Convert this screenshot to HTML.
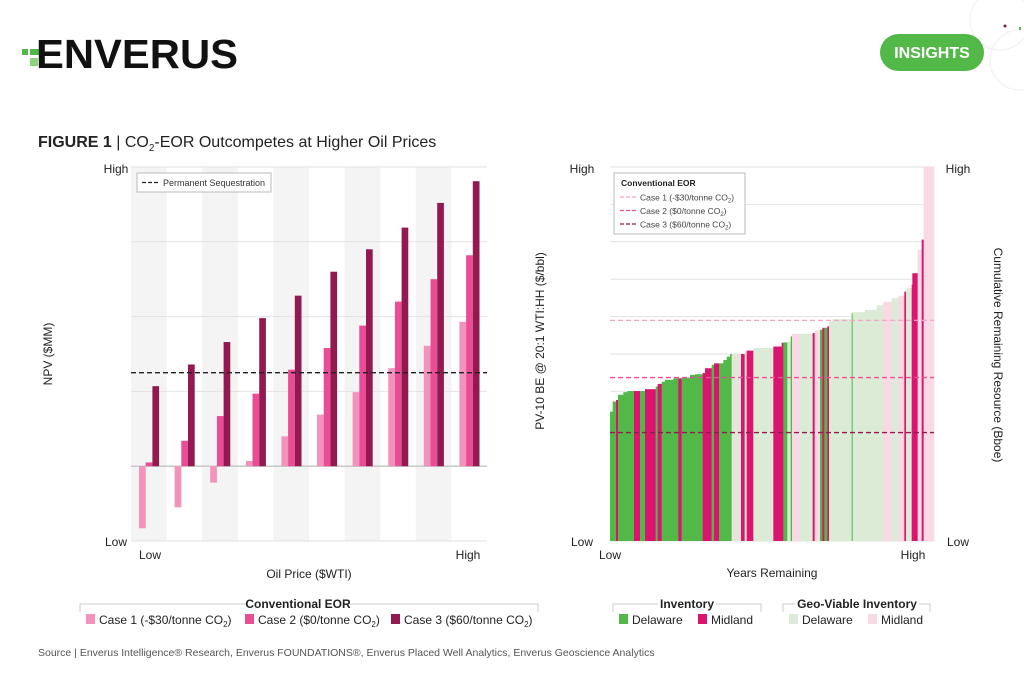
<!DOCTYPE html>
<html><head><meta charset="utf-8"><style>
html,body{margin:0;padding:0;background:#fff;}
svg{display:block;font-family:"Liberation Sans",Arial,sans-serif;}
</style></head><body>
<svg id="s" width="1024" height="683" viewBox="0 0 1024 683" xmlns="http://www.w3.org/2000/svg">
<g>
  <g>
    <rect x="22" y="49" width="6" height="6" fill="#52b848"/>
    <rect x="30" y="49" width="14" height="6" fill="#52b848"/>
    <rect x="30" y="58" width="8" height="8" fill="#8fd17f"/>
    <text x="36" y="68" font-size="41" font-weight="bold" fill="#111" textLength="202" lengthAdjust="spacingAndGlyphs">ENVERUS</text>
  </g>
  <circle cx="1000" cy="20" r="30" fill="none" stroke="#eee"/>
  <circle cx="1020" cy="60" r="30" fill="none" stroke="#eee"/>
  <rect x="1019" y="27" width="2" height="3" fill="#52b848"/>
  <circle cx="1005" cy="26" r="1.5" fill="#8a1a4e"/>
  <rect x="880" y="34" width="104" height="37" rx="18.5" fill="#52b848"/>
  <text x="932" y="58" font-size="16" font-weight="bold" fill="#fff" text-anchor="middle">INSIGHTS</text>
</g>
<text x="38" y="147" font-size="16" fill="#222"><tspan font-weight="bold">FIGURE 1</tspan> | CO<tspan font-size="10" dy="4">2</tspan><tspan dy="-4">-EOR Outcompetes at Higher Oil Prices</tspan></text>

<g id="left"></g>
<g id="right"></g>

<text x="38" y="656" font-size="10.5" fill="#555">Source | Enverus Intelligence® Research, Enverus FOUNDATIONS®, Enverus Placed Well Analytics, Enverus Geoscience Analytics</text>
</svg>
<script>
// ---- Left chart data ----
const groups = [0,1,2,3,4,5,6,7,8,9];
const case1 = [-0.83,-0.55,-0.22,0.07,0.40,0.69,0.99,1.31,1.61,1.93];
const case2 = [0.05,0.34,0.67,0.97,1.29,1.58,1.88,2.20,2.50,2.82];
const case3 = [1.07,1.36,1.66,1.98,2.28,2.60,2.90,3.19,3.52,3.81];
const sequestration = 1.25;
const leftTicks = [-1,0,1,2,3,4];
// ---- Right chart data ----
const resWidths = [8,10,6,16,12,20,18,15,32,6,12,10,25,15,10,25,15,23,7,20,7,15,13,10,10,5,8,7,13,11,6,20,60,25,5,12,10,4,22,40,6,16,7,6,9,5,10,58,3,37,35,20,25,20,18,5,17,2,16,12,6,31];
const resValues = [3.46,3.73,3.77,3.91,3.98,4.01,4.01,4.01,4.06,4.13,4.20,4.26,4.31,4.35,4.35,4.37,4.44,4.46,4.49,4.62,4.71,4.75,4.75,4.84,4.93,5.00,5.00,5.00,5.00,5.00,5.06,5.09,5.16,5.20,5.30,5.31,5.33,5.47,5.54,5.54,5.56,5.63,5.65,5.70,5.70,5.74,5.87,5.93,6.09,6.12,6.18,6.30,6.39,6.49,6.56,6.67,6.76,6.85,7.16,7.79,8.06,10.0];
const resTypes = ["D","D","M","D","D","D","M","D","M","D","M","D","D","D","M","D","D","D","M","M","D","M","D","D","D","D","GD","GM","GD","M","GD","M","GD","M","M","D","GD","D","GM","GD","M","GM","D","M","D","M","GD","GD","D","GD","GD","GD","GM","GD","GM","M","GD","M","M","GM","M","GM"];
const eorLevels = [5.9,4.37,2.9];
const eorNames = ["Case 1","Case 2","Case 3"];

const NS="http://www.w3.org/2000/svg";
function mk(parent,tag,attrs,txt){const e=document.createElementNS(NS,tag);for(const k in attrs)e.setAttribute(k,attrs[k]);if(txt!==undefined)e.textContent=txt;parent.appendChild(e);return e;}

// Left chart
const L=document.getElementById('left');
const lx0=131,lx1=487,ly0=167,ly1=541,vmin=-1,vmax=4;
const ly=v=>ly1-(v-vmin)/(vmax-vmin)*(ly1-ly0);
const gw=(lx1-lx0)/groups.length;
groups.forEach((g,i)=>{ if(i%2===0){const r=mk(L,'rect',{x:lx0+i*gw,y:ly0,width:gw,height:ly1-ly0,fill:'#f4f4f4'});

}});
leftTicks.forEach(t=>{const l=mk(L,'line',{x1:lx0,x2:lx1,y1:ly(t),y2:ly(t),stroke:t===0?'#c8c8c8':'#e2e2e2','stroke-width':t===0?1.5:1});

});
const cols=['#f393bb','#ea4c95','#921a50'];
[case1,case2,case3].forEach((ser,si)=>{ser.forEach((v,i)=>{
  const x=lx0+i*gw+8+si*6.7;const y=Math.min(ly(v),ly(0));const h=Math.abs(ly(v)-ly(0));
  const r=mk(L,'rect',{x:x,y:y,width:6.7,height:h,fill:cols[si]});
  
  
});});
const sq=mk(L,'line',{x1:lx0,x2:lx1,y1:ly(sequestration),y2:ly(sequestration),stroke:'#222','stroke-width':1.3,'stroke-dasharray':'5,3'});


const lg=mk(L,'g',{});


mk(lg,'rect',{x:137,y:173,width:134,height:19,fill:'#fff',stroke:'#bbb'});
mk(lg,'line',{x1:142,x2:160,y1:182.5,y2:182.5,stroke:'#222','stroke-width':1.3,'stroke-dasharray':'4,2'});
mk(lg,'text',{x:163,y:186,'font-size':9,fill:'#333'},'Permanent Sequestration');
mk(L,'text',{x:116,y:173,'font-size':12,fill:'#222','text-anchor':'middle'},'High');
mk(L,'text',{x:116,y:546,'font-size':12,fill:'#222','text-anchor':'middle'},'Low');
mk(L,'text',{x:150,y:559,'font-size':12,fill:'#222','text-anchor':'middle'},'Low');
mk(L,'text',{x:468,y:559,'font-size':12,fill:'#222','text-anchor':'middle'},'High');
mk(L,'text',{x:309,y:578,'font-size':12,fill:'#222','text-anchor':'middle'},'Oil Price ($WTI)');
mk(L,'text',{x:0,y:0,'font-size':12,fill:'#222','text-anchor':'middle',transform:'translate(52,354) rotate(-90)'},'NPV ($MM)');

// Right chart
const R=document.getElementById('right');
const rx0=610,rx1=934,ry0=167,ry1=541;
const ry=v=>ry1-v/10*(ry1-ry0);
for(let t=0;t<=10;t++){const l=mk(R,'line',{x1:rx0,x2:rx1,y1:ry(t),y2:ry(t),stroke:'#e2e2e2'});

}
const tot=resWidths.reduce((a,b)=>a+b,0);
const colMap={D:'#52b848',M:'#db1470',GD:'#dcebd5',GM:'#f9d9e4'};
let cx=rx0;
resWidths.forEach((w,i)=>{const ww=w/tot*(rx1-rx0);
  const r=mk(R,'rect',{x:cx,y:ry(resValues[i]),width:ww+0.3,height:ry1-ry(resValues[i]),fill:colMap[resTypes[i]]});
  
  
  cx+=ww;});
const eorCols=['#f4a6c4','#ea4c95','#921a50'];
eorLevels.forEach((v,i)=>{const l=mk(R,'line',{x1:rx0,x2:rx1,y1:ry(v),y2:ry(v),stroke:eorCols[i],'stroke-width':1.3,'stroke-dasharray':'5,3'});

});
const rl=mk(R,'g',{});


mk(rl,'rect',{x:614,y:173,width:131,height:61,fill:'#fff',stroke:'#bbb'});
mk(rl,'text',{x:621,y:186,'font-size':8.5,'font-weight':'bold',fill:'#222'},'Conventional EOR');
const lbl=[['Case 1 (-$30/tonne CO','2',')'],['Case 2 ($0/tonne CO','2',')'],['Case 3 ($60/tonne CO','2',')']];
lbl.forEach((t,i)=>{const y=197+i*13.5;
  mk(rl,'line',{x1:620,x2:637,y1:y,y2:y,stroke:eorCols[i],'stroke-width':1.3,'stroke-dasharray':'4,2'});
  const tx=mk(rl,'text',{x:640,y:y+3.5,'font-size':8.5,fill:'#444'},t[0]);
  mk(tx,'tspan',{'font-size':6,dy:2},t[1]);mk(tx,'tspan',{dy:-2},t[2]);});
mk(R,'text',{x:582,y:173,'font-size':12,fill:'#222','text-anchor':'middle'},'High');
mk(R,'text',{x:582,y:546,'font-size':12,fill:'#222','text-anchor':'middle'},'Low');
mk(R,'text',{x:958,y:173,'font-size':12,fill:'#222','text-anchor':'middle'},'High');
mk(R,'text',{x:958,y:546,'font-size':12,fill:'#222','text-anchor':'middle'},'Low');
mk(R,'text',{x:610,y:559,'font-size':12,fill:'#222','text-anchor':'middle'},'Low');
mk(R,'text',{x:913,y:559,'font-size':12,fill:'#222','text-anchor':'middle'},'High');
mk(R,'text',{x:772,y:577,'font-size':12,fill:'#222','text-anchor':'middle'},'Years Remaining');
mk(R,'text',{x:0,y:0,'font-size':12,fill:'#222','text-anchor':'middle',transform:'translate(544,341) rotate(-90)'},'PV-10 BE @ 20:1 WTI:HH ($/bbl)');
mk(R,'text',{x:0,y:0,'font-size':12,fill:'#222','text-anchor':'middle',transform:'translate(994,355) rotate(90)'},'Cumulative Remaining Resource (Bboe)');

// Bottom legends
const S=document.getElementById('s');
function boxLegend(x0,x1,title,tx){const g=mk(S,'g',{});
  
  
  mk(g,'path',{d:`M${x0},612 V604 H${x1} V612`,fill:'none',stroke:'#ccc','stroke-width':1});
  const t=mk(g,'text',{x:tx,y:608,'font-size':12,'font-weight':'bold',fill:'#222','text-anchor':'middle'},title);
  return {g,t};}
function item(g,x,color,label,sub,end){
  mk(g,'rect',{x:x,y:614,width:9,height:10,fill:color});
  const t=mk(g,'text',{x:x+13,y:624,'font-size':12,fill:'#222'},label);
  if(sub){mk(t,'tspan',{'font-size':8,dy:3},sub);mk(t,'tspan',{dy:-3},end);}}
let a=boxLegend(80,538,'Conventional EOR',298);
mk(a.g,'rect',{x:248,y:598,width:100,height:12,fill:'#fff'});a.g.appendChild(a.t);
item(a.g,86,'#f393bb','Case 1 (-$30/tonne CO','2',')');
item(a.g,245,'#ea4c95','Case 2 ($0/tonne CO','2',')');
item(a.g,391,'#921a50','Case 3 ($60/tonne CO','2',')');
let b=boxLegend(613,761,'Inventory',687);
mk(b.g,'rect',{x:658,y:598,width:58,height:12,fill:'#fff'});b.g.appendChild(b.t);
item(b.g,619,'#52b848','Delaware');item(b.g,698,'#db1470','Midland');
let c=boxLegend(783,930,'Geo-Viable Inventory',857);
mk(c.g,'rect',{x:795,y:598,width:124,height:12,fill:'#fff'});c.g.appendChild(c.t);
item(c.g,789,'#dcebd5','Delaware');item(c.g,868,'#f9d9e4','Midland');
</script>
</body></html>
